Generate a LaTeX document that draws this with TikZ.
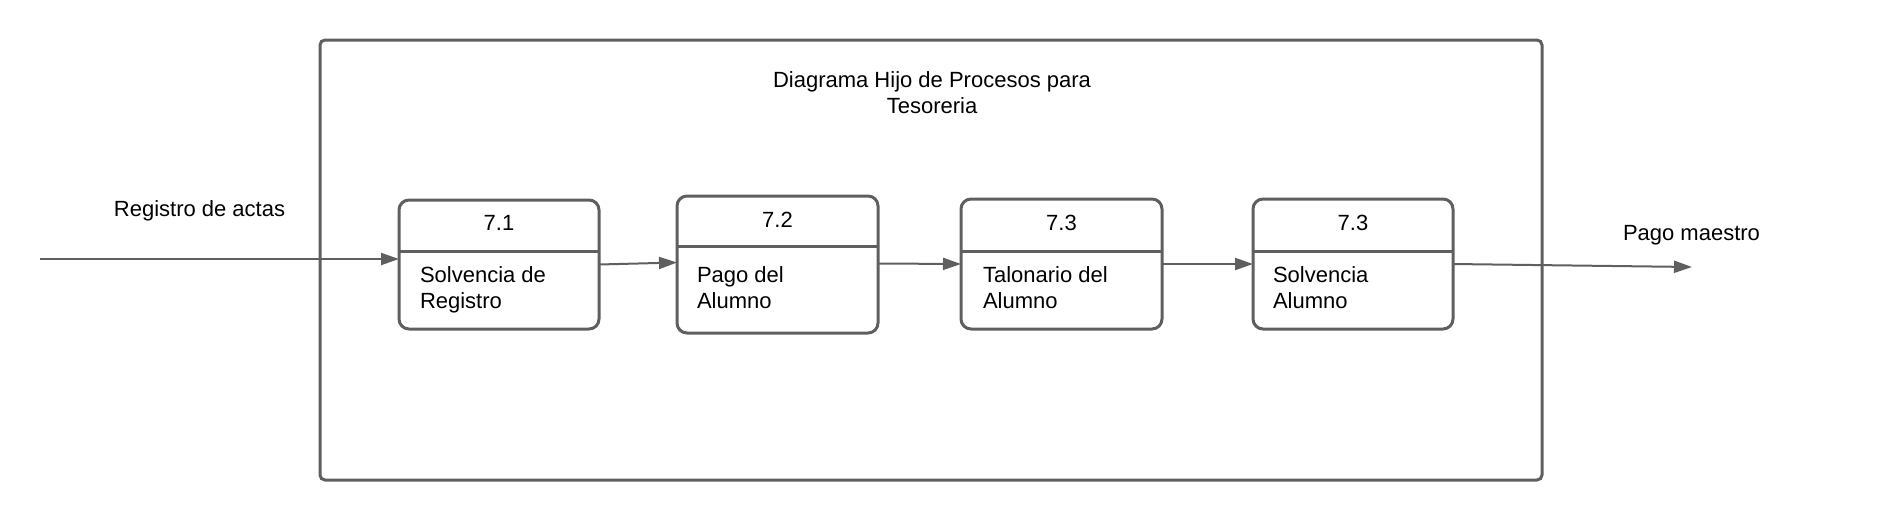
\documentclass[tikz,border=0pt]{standalone}
\usepackage{fontspec}
\setmainfont{Liberation Sans}
\usetikzlibrary{arrows.meta}
\definecolor{lc}{RGB}{95,95,95}
\begin{document}
\begin{tikzpicture}[x=1pt,y=-1pt,
  every node/.style={inner sep=0pt, outer sep=0pt, font=\fontsize{22}{26}\selectfont, text=black},
  procbox/.style={draw=lc, line width=3pt, rounded corners=10pt, fill=none, rectangle},
  divline/.style={draw=lc, line width=3pt},
  flow/.style={draw=lc, line width=2pt, -{Triangle[length=18pt,width=12pt]}, fill=lc},
  lbl/.style={anchor=base},
  body/.style={anchor=base west}]
\useasboundingbox (0,0) rectangle (1893,520);
% outer frame
\node[draw=lc, line width=3pt, rounded corners=5pt, minimum width=1222pt, minimum height=440pt] (frame) at (931,260) {};
\node[lbl] (t1) at (932,87) {Diagrama Hijo de Procesos para};
\node[lbl] (t2) at (932,113) {Tesoreria};
% process boxes
\node[procbox, minimum width=200pt, minimum height=129pt] (b1) at (499,264.5) {};
\node[procbox, minimum width=201pt, minimum height=137pt] (b2) at (777.5,264.5) {};
\node[procbox, minimum width=201pt, minimum height=130pt] (b3) at (1061.5,264) {};
\node[procbox, minimum width=200pt, minimum height=130pt] (b4) at (1353,264) {};
% dividers
\draw[divline] (b1.west |- 0,251) -- (b1.east |- 0,251);
\draw[divline] (b2.west |- 0,246) -- (b2.east |- 0,246);
\draw[divline] (b3.west |- 0,251) -- (b3.east |- 0,251);
\draw[divline] (b4.west |- 0,251) -- (b4.east |- 0,251);
% box texts
\node[lbl] (n1) at (499,230) {7.1};
\node[lbl] (n2) at (777.5,227) {7.2};
\node[lbl] (n3) at (1061.5,230) {7.3};
\node[lbl] (n4) at (1353,230) {7.3};
\node[body] (b1a) at (420,282) {Solvencia de};
\node[body] (b1b) at (420,308.5) {Registro};
\node[body] (b2a) at (697,282) {Pago del};
\node[body] (b2b) at (697,308.5) {Alumno};
\node[body] (b3a) at (983,282) {Talonario del};
\node[body] (b3b) at (983,308.5) {Alumno};
\node[body] (b4a) at (1273,282) {Solvencia};
\node[body] (b4b) at (1273,308.5) {Alumno};
% external labels
\node[lbl] (lin) at (199.5,216) {Registro de actas};
\node[body] (lout) at (1623,240) {Pago maestro};
% connectors
\coordinate (src) at (40,259);
\coordinate (dst) at (1692,267);
\draw[flow] (src) -- (src -| b1.west);
\draw[flow] (b1.east) -- ([yshift=2pt]b2.west);
\draw[flow] ([yshift=1pt]b2.east) -- (b3.west);
\draw[flow] (b3.east) -- (b4.west);
\draw[flow] (b4.east) -- (dst);
\end{tikzpicture}
\end{document}
